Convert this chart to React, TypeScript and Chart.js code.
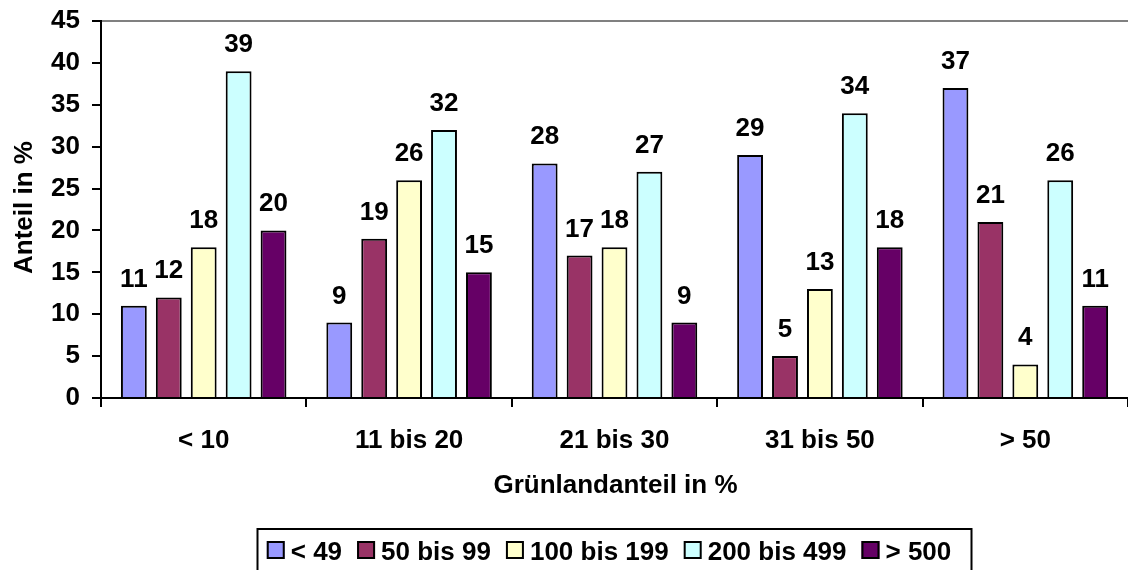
import React, { useEffect, useRef } from "react";
import { Chart, registerables } from "chart.js";

Chart.register(...registerables);

const categories = ["< 10", "11 bis 20", "21 bis 30", "31 bis 50", "> 50"];
const seriesNames = ["< 49", "50 bis 99", "100 bis 199", "200 bis 499", "> 500"];
const seriesLt49 = [11, 9, 28, 29, 37];
const series50to99 = [12, 19, 17, 5, 21];
const series100to199 = [18, 26, 18, 13, 4];
const series200to499 = [39, 32, 27, 34, 26];
const seriesGt500 = [20, 15, 9, 18, 11];
const yMin = 0;
const yMax = 45;
const yStep = 5;
const xTitle = "Grünlandanteil in %";
const yTitle = "Anteil in %";

const seriesColors = ["#9999FF", "#993366", "#FFFFCC", "#CCFFFF", "#660066"];
const FONT_FAMILY = '"Liberation Sans", Arial, sans-serif';
const FONT_SIZE = 26;
const font = `bold ${FONT_SIZE}px ${FONT_FAMILY}`;

const valueLabels = {
  id: "valueLabels",
  afterDatasetsDraw(chart: any) {
    const ctx = chart.ctx;
    ctx.save();
    ctx.font = font;
    ctx.fillStyle = "#000";
    ctx.textAlign = "center";
    ctx.textBaseline = "alphabetic";
    chart.data.datasets.forEach((ds: any, i: number) => {
      const meta = chart.getDatasetMeta(i);
      meta.data.forEach((bar: any, j: number) => {
        ctx.fillText(String(ds.data[j]), bar.x, bar.y - 19);
      });
    });
    ctx.restore();
  },
};

const titlesAndLegend = {
  id: "titlesAndLegend",
  afterDraw(chart: any) {
    const ctx = chart.ctx;
    const area = chart.chartArea;
    ctx.save();
    ctx.font = font;
    ctx.fillStyle = "#000";
    ctx.textAlign = "center";
    ctx.textBaseline = "alphabetic";
    const cx = (area.left + area.right) / 2;
    ctx.fillText(xTitle, cx + 1, 493);
    ctx.save();
    ctx.translate(32, (area.top + area.bottom) / 2 - 2);
    ctx.rotate(-Math.PI / 2);
    ctx.fillText(yTitle, 0, 0);
    ctx.restore();

    const sw = 18;
    const gapSwText = 6;
    const gapItems = 15;
    const widths = seriesNames.map((n) => ctx.measureText(n).width);
    const total =
      widths.reduce((a: number, b: number) => a + b, 0) +
      seriesNames.length * (sw + gapSwText) +
      (seriesNames.length - 1) * gapItems;
    const boxLeft = cx - 357;
    const boxRight = cx + 357;
    const boxTop = 529;
    ctx.lineWidth = 2;
    ctx.strokeStyle = "#000";
    ctx.strokeRect(boxLeft, boxTop, boxRight - boxLeft, 60);
    let x = boxLeft + 9 + (685 - total) / 2;
    const swTop = 541;
    ctx.textAlign = "left";
    seriesNames.forEach((n, i) => {
      ctx.fillStyle = seriesColors[i];
      ctx.fillRect(x, swTop, sw, sw);
      ctx.strokeStyle = "#000";
      ctx.lineWidth = 2;
      ctx.strokeRect(x + 1, swTop + 1, sw - 2, sw - 2);
      ctx.fillStyle = "#000";
      ctx.fillText(n, x + sw + gapSwText, 560);
      x += sw + gapSwText + widths[i] + gapItems;
    });
    ctx.restore();
  },
};

const whiteBg = {
  id: "whiteBg",
  beforeDraw(chart: any) {
    const ctx = chart.ctx;
    ctx.save();
    ctx.fillStyle = "#fff";
    ctx.fillRect(0, 0, chart.width, chart.height);
    ctx.restore();
  },
};

export default function App() {
  const ref = useRef<HTMLCanvasElement | null>(null);
  useEffect(() => {
    if (!ref.current) return;
    const allSeries = [seriesLt49, series50to99, series100to199, series200to499, seriesGt500];
    const chart = new Chart(ref.current, {
      type: "bar",
      data: {
        labels: categories,
        datasets: allSeries.map((d, i) => ({
          label: seriesNames[i],
          data: d,
          backgroundColor: seriesColors[i],
          borderColor: "#000",
          borderWidth: 2,
          barPercentage: 0.74,
          categoryPercentage: 0.85,
        })),
      },
      options: {
        responsive: false,
        animation: false,
        devicePixelRatio: 1,
        layout: { padding: { top: 21, left: 0, right: 0, bottom: 0 } },
        plugins: {
          legend: { display: false },
          tooltip: { enabled: false },
          title: { display: false },
        },
        scales: {
          x: {
            offset: true,
            afterFit: (scale: any) => {
              scale.height = 570 - 398;
              scale.paddingLeft = 0;
              scale.paddingRight = 0;
            },
            grid: {
              display: true,
              offset: true,
              drawOnChartArea: false,
              drawTicks: true,
              tickLength: 9,
              tickColor: "#000",
              tickWidth: 2,
              color: "#000",
              lineWidth: 2,
            },
            border: { display: true, color: "#000", width: 2 },
            ticks: {
              color: "#000",
              font: { family: FONT_FAMILY, size: FONT_SIZE, weight: "bold" },
              padding: 18,
              maxRotation: 0,
              autoSkip: false,
            },
          },
          y: {
            min: yMin,
            max: yMax,
            afterFit: (scale: any) => {
              scale.width = 101;
              scale.paddingTop = 0;
              scale.paddingBottom = 0;
            },
            grid: {
              display: true,
              drawTicks: true,
              tickLength: 9,
              tickColor: "#000",
              tickWidth: 2,
              color: (c: any) => (c.tick && c.tick.value === yMax ? "#808080" : "rgba(0,0,0,0)"),
              lineWidth: 2,
            },
            border: { display: true, color: "#000", width: 2 },
            ticks: {
              stepSize: yStep,
              color: "#000",
              font: { family: FONT_FAMILY, size: FONT_SIZE, weight: "bold" },
              padding: 12,
            },
          },
        },
      },
      plugins: [whiteBg, valueLabels, titlesAndLegend],
    } as any);
    return () => chart.destroy();
  }, []);
  return (
    <div style={{ position: "fixed", left: 0, top: 0, width: 1128, height: 570, background: "#fff" }}>
      <canvas ref={ref} width={1128} height={570} style={{ display: "block" }} />
    </div>
  );
}
